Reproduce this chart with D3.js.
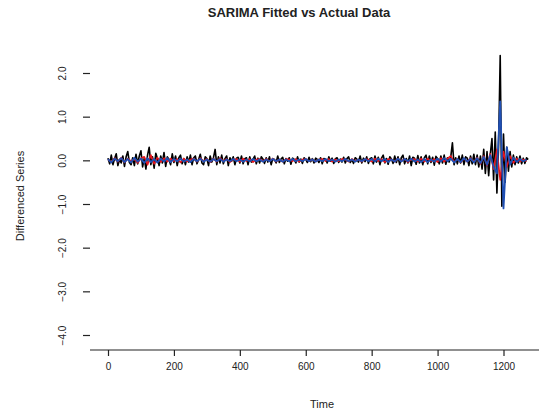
<!DOCTYPE html>
<html>
<head>
<meta charset="utf-8">
<script src="https://cdn.jsdelivr.net/npm/d3@7"></script>
<style>
  body { margin: 0; background: #fff; }
  text { font-family: "Liberation Sans", Arial, sans-serif; }
</style>
</head>
<body>
<svg id="chart" width="539" height="415"></svg>
<script>
var title = "SARIMA Fitted vs Actual Data";
var xLabel = "Time";
var yLabel = "Differenced Series";
var xTicks = [0, 200, 400, 600, 800, 1000, 1200];
var yTicks = [2, 1, 0, -1, -2, -3, -4];

// actual series, one value every 5 time steps
var actualStep = 5;
var actual = [
  0.05,-0.08,0.12,-0.1,0.04,0.15,-0.12,0.02,-0.06,0.1,-0.14,0.08,0.2,-0.05,-0.1,0.06,
  -0.12,0.14,-0.08,0.1,0.22,-0.15,0.05,-0.2,0.12,0.3,-0.1,0.08,-0.18,0.16,0.04,-0.12,
  0.1,-0.06,0.18,-0.14,0.08,0.02,-0.1,0.15,-0.05,0.1,-0.12,0.06,0.12,-0.08,0.04,-0.1,
  0.08,-0.04,0.12,-0.1,0.06,0.1,-0.08,0.02,0.14,-0.06,-0.1,0.08,0.04,-0.12,0.1,-0.04,
  0.06,0.25,-0.1,0.08,-0.06,0.12,-0.08,0.04,0.1,-0.12,0.06,-0.02,0.08,-0.1,0.05,0.07,
  -0.06,0.1,-0.08,0.04,0.06,-0.1,0.08,-0.04,0.02,0.1,-0.08,0.05,-0.06,0.08,0.03,-0.07,
  0.06,-0.04,0.08,-0.1,0.04,0.02,-0.06,0.1,-0.05,0.03,0.07,-0.08,0.04,-0.02,0.06,-0.09,
  0.05,0.02,-0.06,0.08,-0.04,0.03,-0.07,0.06,0.02,-0.05,0.07,-0.03,0.04,-0.06,0.05,0.02,
  -0.05,0.06,-0.08,0.04,0.03,-0.06,0.08,-0.02,0.05,-0.07,0.04,0.06,-0.05,0.03,-0.04,0.07,
  -0.06,0.04,0.08,-0.05,0.02,-0.07,0.06,0.03,-0.04,0.1,-0.06,0.05,-0.03,0.08,-0.07,0.04,
  0.06,-0.08,0.1,-0.04,0.07,-0.1,0.05,0.12,-0.06,0.04,-0.09,0.08,0.03,-0.07,0.1,-0.05,
  0.08,-0.1,0.06,0.12,-0.08,0.04,-0.06,0.1,-0.12,0.07,0.05,-0.09,0.11,-0.06,0.08,-0.1,
  0.06,0.12,-0.08,0.1,-0.05,0.07,-0.11,0.09,0.04,-0.08,0.1,-0.06,0.12,-0.09,0.06,-0.04,
  0.08,0.4,-0.1,0.06,-0.08,0.1,-0.06,0.12,-0.1,0.08,0.05,-0.12,0.1,-0.08,0.14,-0.1,
  0.12,-0.15,0.1,-0.2,0.25,-0.3,0.2,-0.35,0.15,0.5,-0.45,0.65,-0.75,0.3,2.4,-1.05,
  0.6,-0.5,0.3,-0.25,0.2,-0.15,0.12,-0.1,0.08,-0.06,0.1,-0.08,0.05,-0.07,0.06,0.02
];

// fitted series, one value every 10 time steps
var fittedStep = 10;
var fitted = [
  0.02,-0.04,0.05,-0.03,0.06,-0.05,0.04,-0.02,0.03,-0.06,0.05,0.08,-0.1,0.12,-0.08,0.06,
  -0.04,0.05,-0.03,0.04,-0.02,0.03,-0.05,0.04,-0.03,0.02,0.04,-0.03,0.05,-0.02,0.03,-0.04,
  0.04,-0.03,0.05,-0.02,0.03,-0.04,0.02,0.03,-0.03,0.04,-0.02,0.03,-0.04,0.02,0.03,-0.02,
  0.03,-0.02,0.04,-0.03,0.02,-0.03,0.03,0.02,-0.02,0.03,-0.03,0.02,0.03,-0.02,0.02,-0.03,
  0.02,0.03,-0.02,0.03,-0.03,0.02,-0.02,0.03,0.02,-0.03,0.03,-0.02,0.02,-0.03,0.03,0.02,
  -0.03,0.04,-0.02,0.03,-0.04,0.03,0.02,-0.03,0.04,-0.02,0.03,-0.04,0.02,0.03,-0.03,0.04,
  -0.03,0.04,-0.02,0.03,-0.04,0.05,-0.03,0.04,0.1,-0.04,0.03,-0.05,0.04,-0.03,0.05,-0.04,
  0.06,-0.08,0.1,-0.12,0.15,-0.2,0.25,-0.45,0.2,-0.15,0.1,-0.06,0.04,-0.03,0.02,-0.02
];

// second model, one value every 10 time steps
var model2 = [
  0.03,-0.05,0.04,-0.02,0.05,-0.04,0.03,-0.05,0.06,-0.03,0.04,-0.06,0.05,-0.04,0.03,-0.05,
  0.04,-0.03,0.05,-0.04,0.03,-0.02,0.04,-0.03,0.02,-0.04,0.03,-0.02,0.04,-0.03,0.02,-0.03,
  0.03,-0.02,0.03,-0.03,0.02,-0.02,0.03,-0.02,0.02,-0.03,0.02,-0.02,0.03,-0.02,0.02,-0.03,
  0.02,-0.02,0.03,-0.02,0.02,-0.03,0.02,-0.02,0.03,-0.02,0.02,-0.02,0.03,-0.02,0.02,-0.03,
  0.02,-0.02,0.03,-0.02,0.02,-0.03,0.02,-0.02,0.03,-0.02,0.02,-0.03,0.02,-0.02,0.03,-0.02,
  0.03,-0.03,0.04,-0.02,0.03,-0.04,0.02,-0.03,0.04,-0.03,0.03,-0.02,0.04,-0.03,0.02,-0.04,
  0.03,-0.04,0.02,-0.03,0.04,-0.03,0.05,-0.02,0.04,-0.05,0.03,-0.04,0.05,-0.03,0.04,-0.05,
  0.05,-0.06,0.08,-0.1,0.12,-0.15,-0.3,1.35,-1.1,0.3,-0.1,0.06,-0.04,0.03,-0.02,0.02
];

var svg = d3.select("#chart");

var xScale = d3.scaleLinear()
    .domain([0, 1200])
    .range([108, 503.5]);

var yScale = d3.scaleLinear()
    .domain([-4, 2])
    .range([335, 73]);

function drawSeries(values, step, color, width) {
    var line = d3.line()
        .x(function (d, i) { return xScale(i * step); })
        .y(function (d) { return yScale(d); });
    svg.append("path")
        .datum(values)
        .attr("d", line)
        .attr("fill", "none")
        .attr("stroke", color)
        .attr("stroke-width", width)
        .attr("stroke-linejoin", "round");
}

drawSeries(actual, actualStep, "#000", 1.6);
drawSeries(fitted, fittedStep, "#e8141c", 1.6);
drawSeries(model2, fittedStep, "#1f4fb4", 1.8);

// x axis, line runs across the plot
svg.append("line")
    .attr("x1", 90).attr("x2", 539)
    .attr("y1", 350).attr("y2", 350)
    .attr("stroke", "#222").attr("stroke-width", 1.2);

var xAxis = svg.append("g")
    .attr("transform", "translate(0,350)")
    .call(d3.axisBottom(xScale).tickValues(xTicks).tickSize(6).tickFormat(d3.format("d")));
xAxis.select(".domain").remove();
xAxis.selectAll("line").attr("stroke", "#222").attr("stroke-width", 1.2);
xAxis.selectAll("text").attr("font-size", 10).attr("dy", "1.1em").attr("fill", "#222");

var yAxis = svg.append("g")
    .attr("transform", "translate(90,0)")
    .call(d3.axisLeft(yScale).tickValues(yTicks).tickSize(7).tickFormat(d3.format(".1f")));
yAxis.select(".domain").remove();
yAxis.selectAll("line").attr("stroke", "#222").attr("stroke-width", 1.2);
yAxis.selectAll("text")
    .attr("font-size", 10)
    .attr("fill", "#222")
    .attr("x", 0).attr("dy", 0)
    .attr("text-anchor", "middle")
    .attr("transform", "translate(-24,0) rotate(-90)");

svg.append("text")
    .attr("x", 299).attr("y", 17)
    .attr("text-anchor", "middle")
    .attr("font-size", 13).attr("font-weight", "bold")
    .attr("fill", "#222")
    .text(title);

svg.append("text")
    .attr("x", 322).attr("y", 408)
    .attr("text-anchor", "middle")
    .attr("font-size", 11)
    .attr("fill", "#222")
    .text(xLabel);

svg.append("text")
    .attr("transform", "translate(24,196) rotate(-90)")
    .attr("text-anchor", "middle")
    .attr("font-size", 11)
    .attr("fill", "#222")
    .text(yLabel);
</script>
</body>
</html>
